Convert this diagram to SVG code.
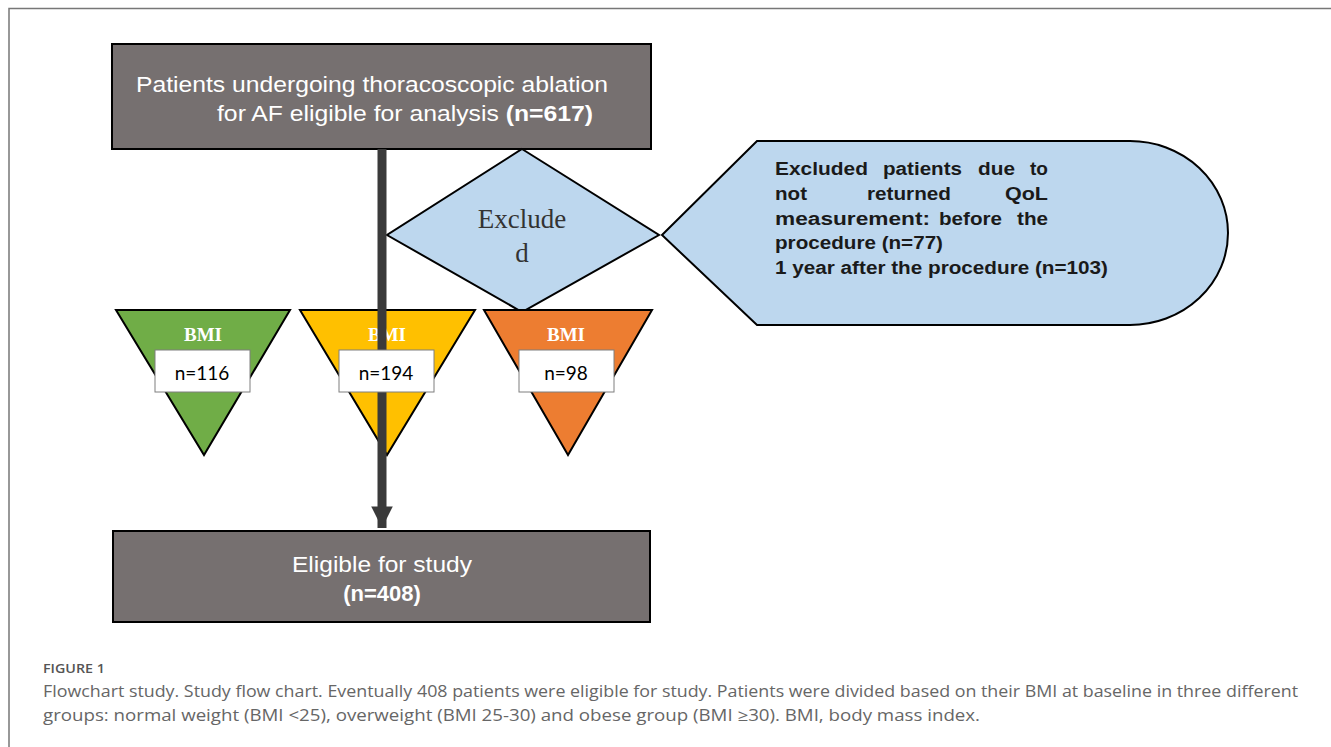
<svg xmlns="http://www.w3.org/2000/svg" width="1331" height="747" viewBox="0 0 1331 747">
<style>
.box{fill:#767070;stroke:#000;stroke-width:2}
.wt{fill:#fff;font-family:"Liberation Sans",Arial,sans-serif;font-size:22px}
.dia{fill:#bdd7ee;stroke:#000;stroke-width:2}
.tri{stroke:#000;stroke-width:2}
.bmi{fill:#fff;font-family:"Liberation Serif","Times New Roman",serif;font-size:19px;font-weight:bold;text-anchor:middle}
.nbox{fill:#fff;stroke:#7f7f7f;stroke-width:1}
.nt{fill:#000;font-family:Lato,"Liberation Sans",sans-serif;font-size:19px;text-anchor:middle}
.ct{fill:#1a1a1a;font-family:"Liberation Sans",Arial,sans-serif;font-size:18px;font-weight:bold}
.cap{fill:#666;font-family:"Open Sans","Liberation Sans",sans-serif;font-size:16px}
</style>
<defs>
<marker id="ah" viewBox="0 0 10 10" refX="10" refY="5" markerWidth="2.4" markerHeight="2.4" markerUnits="strokeWidth" orient="auto">
<path d="M0,0 L10,5 L0,10 Z" fill="#3a3a3a"/>
</marker>
</defs>
<rect width="1331" height="747" fill="#fff"/>
<path d="M9,747 V8.5 H1331" fill="none" stroke="#777" stroke-width="1.5"/>

<g id="node-start">
<rect class="box" x="112" y="44" width="539" height="105"/>
<text class="wt" x="136" y="92" textLength="472" lengthAdjust="spacingAndGlyphs">Patients undergoing thoracoscopic ablation</text>
<text class="wt" x="217" y="121" textLength="376" lengthAdjust="spacingAndGlyphs">for AF eligible for analysis <tspan font-weight="bold">(n=617)</tspan></text>
</g>

<g id="node-excluded-diamond">
<polygon class="dia" points="522,149 659,235 522,312 387,235"/>
<text x="522" y="228" text-anchor="middle" font-family="'Liberation Serif','Times New Roman',serif" font-size="27" fill="#333">Exclude</text>
<text x="522" y="262" text-anchor="middle" font-family="'Liberation Serif','Times New Roman',serif" font-size="27" fill="#333">d</text>
</g>

<g id="node-excluded-detail">
<path class="dia" d="M662,235 L757,141 L1130,141 A98,92 0 0 1 1130,325 L757,325 Z"/>
<text class="ct" y="175"><tspan x="775" textLength="93" lengthAdjust="spacingAndGlyphs">Excluded</tspan></text>
<text class="ct" y="175"><tspan x="883" textLength="79" lengthAdjust="spacingAndGlyphs">patients</tspan></text>
<text class="ct" y="175"><tspan x="978" textLength="37" lengthAdjust="spacingAndGlyphs">due</tspan></text>
<text class="ct" y="175"><tspan x="1030" textLength="18" lengthAdjust="spacingAndGlyphs">to</tspan></text>
<text class="ct" y="200"><tspan x="775" textLength="32" lengthAdjust="spacingAndGlyphs">not</tspan></text>
<text class="ct" y="200"><tspan x="867" textLength="84" lengthAdjust="spacingAndGlyphs">returned</tspan></text>
<text class="ct" y="200"><tspan x="1005" textLength="43" lengthAdjust="spacingAndGlyphs">QoL</tspan></text>
<text class="ct" y="225"><tspan x="775" textLength="155" lengthAdjust="spacingAndGlyphs">measurement:</tspan></text>
<text class="ct" y="225"><tspan x="939" textLength="63" lengthAdjust="spacingAndGlyphs">before</tspan></text>
<text class="ct" y="225"><tspan x="1017" textLength="31" lengthAdjust="spacingAndGlyphs">the</tspan></text>
<text class="ct" y="249" x="775" textLength="168" lengthAdjust="spacingAndGlyphs">procedure (n=77)</text>
<text class="ct" y="274" x="775" textLength="333" lengthAdjust="spacingAndGlyphs">1 year after the procedure (n=103)</text>
</g>

<g id="node-bmi-normal">
<polygon class="tri" fill="#70ad47" points="116,310 290,310 204,455"/>
<text class="bmi" x="203" y="341">BMI</text>
</g>
<g id="node-bmi-over-tri">
<polygon class="tri" fill="#ffc000" points="300,310 475,310 387,455"/>
<text class="bmi" x="387" y="341">BMI</text>
</g>
<g id="node-bmi-obese">
<polygon class="tri" fill="#ed7d31" points="484,310 652,310 568,455"/>
<text class="bmi" x="566" y="341">BMI</text>
</g>

<g id="connectors">
<line x1="382" y1="149" x2="382" y2="528" stroke="#3a3a3a" stroke-width="9" marker-end="url(#ah)"/>
</g>

<g id="node-n116">
<rect class="nbox" x="155" y="350" width="95" height="42"/>
<text class="nt" x="202" y="380">n=116</text>
</g>
<g id="node-n194">
<rect class="nbox" x="339" y="350" width="95" height="42"/>
<text class="nt" x="386" y="380">n=194</text>
</g>
<g id="node-n98">
<rect class="nbox" x="519" y="350" width="95" height="42"/>
<text class="nt" x="566" y="380">n=98</text>
</g>

<g id="node-eligible">
<rect class="box" x="113" y="531" width="537" height="91"/>
<text class="wt" x="292" y="572" font-size="23" textLength="180" lengthAdjust="spacingAndGlyphs">Eligible for study</text>
<text class="wt" x="382" y="601" text-anchor="middle" font-weight="bold">(n=408)</text>
</g>

<g id="caption">
<text x="43" y="673" fill="#555" font-family="'Open Sans','Liberation Sans',sans-serif" font-size="13" font-weight="600" textLength="62" lengthAdjust="spacingAndGlyphs">FIGURE 1</text>
<text class="cap" x="43" y="697" textLength="1255" lengthAdjust="spacingAndGlyphs">Flowchart study. Study flow chart. Eventually 408 patients were eligible for study. Patients were divided based on their BMI at baseline in three different</text>
<text class="cap" x="43" y="721" textLength="937" lengthAdjust="spacingAndGlyphs">groups: normal weight (BMI &lt;25), overweight (BMI 25-30) and obese group (BMI ≥30). BMI, body mass index.</text>
</g>
</svg>
